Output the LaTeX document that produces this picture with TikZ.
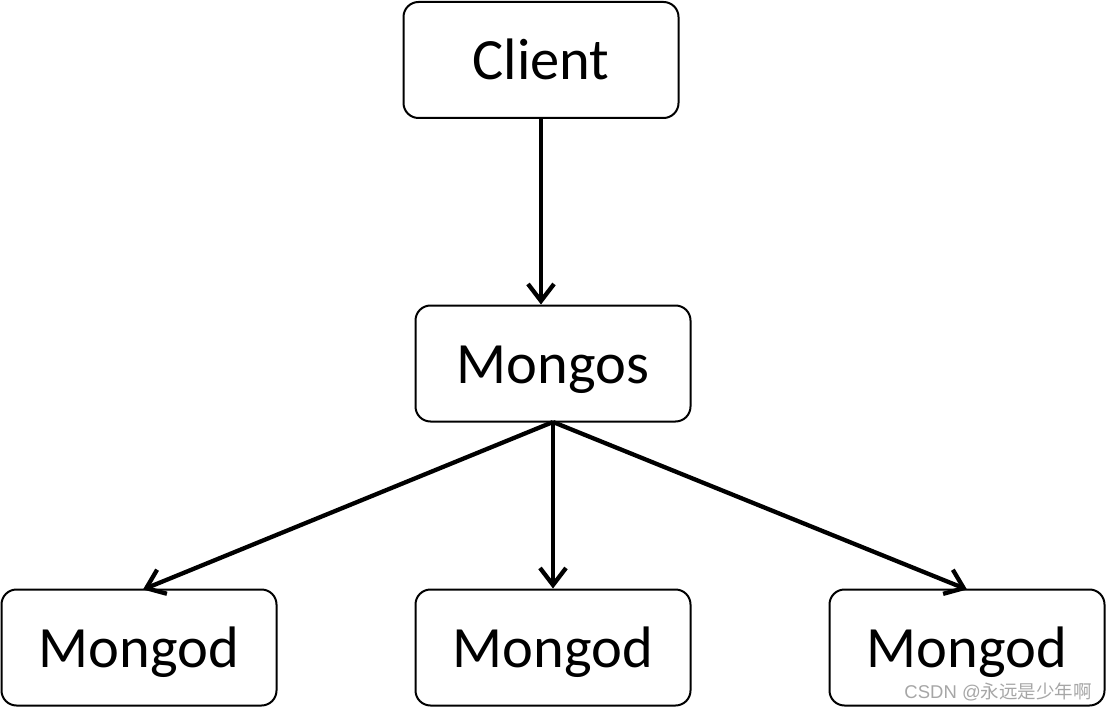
\documentclass[tikz,border=0pt]{standalone}
\usepackage{fontspec}
\setmainfont{Carlito}
\newfontfamily\cjkfont{Noto Sans CJK SC}
\newfontfamily\wmfont{Liberation Sans}
\usetikzlibrary{arrows.meta}
\begin{document}
\begin{tikzpicture}[x=1pt,y=-1pt,
  box/.style={draw=black,line width=2pt,rounded corners=15pt,minimum width=275pt,minimum height=116pt,inner sep=0pt,text height=40pt,text depth=0pt,font=\fontsize{58.5}{68}\selectfont},
  conn/.style={line width=4.3pt,-{Straight Barb[length=17pt,width=26pt,line width=4.3pt]}}]
\useasboundingbox (0,0) rectangle (1107,708);
\node[box] (client) at (541,60) {Client};
\node[box] (mongos) at (553,363.5) {Mongos};
\node[box] (d1) at (139,647.5) {Mongod};
\node[box] (d2) at (553,647.5) {Mongod};
\node[box] (d3) at (967,647.5) {Mongod};
\coordinate (ms) at (553,422);
\draw[conn] (client.south) -- (client.south |- mongos.north);
\draw[conn] (ms) -- (143,589.5) coordinate (t1);
\draw[conn] (ms) -- (d2.north);
\draw[conn] (ms) -- (967,589.5) coordinate (t3);
\node[anchor=east,text=black!35,inner sep=0pt,font=\fontsize{18.5}{20}\selectfont] (wm) at (1092,691.5) {\wmfont CSDN @\cjkfont 永远是少年啊};
\end{tikzpicture}
\end{document}
